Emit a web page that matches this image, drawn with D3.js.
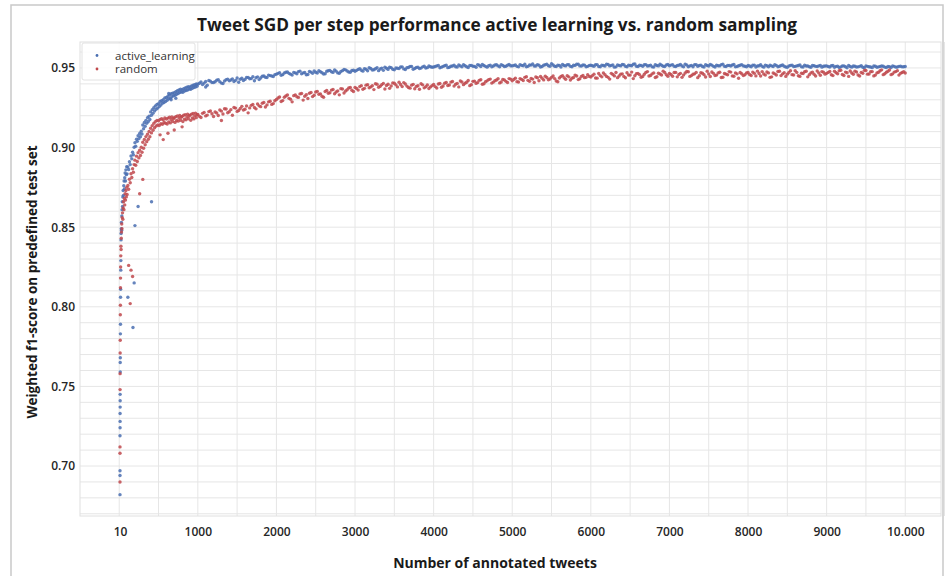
<!DOCTYPE html>
<html>
<head>
<meta charset="utf-8">
<script src="https://cdn.jsdelivr.net/npm/d3@7"></script>
<style>
  body { margin: 0; background: #fff; }
  svg text { font-family: "Open Sans", "Noto Sans", sans-serif; }
</style>
</head>
<body>
<svg id="chart" width="950" height="576"></svg>
<script>
// tick positions and labels
var xTicks = [10, 1000, 2000, 3000, 4000, 5000, 6000, 7000, 8000, 9000, 10000];
var xTickLabels = ["10", "1000", "2000", "3000", "4000", "5000", "6000", "7000", "8000", "9000", "10.000"];
var yTicks = [0.70, 0.75, 0.80, 0.85, 0.90, 0.95];
var seriesNames = ["active_learning", "random"];

// first steps: [tweets, f1]
var activeEarly = [[10,0.682],[10,0.694],[10,0.697],[10,0.719],[11,0.724],[11,0.728],[11,0.733],[12,0.737],[12,0.741],
  [12,0.745],[13,0.759],[13,0.765],[14,0.768],[15,0.783],[16,0.789],[17,0.806],[18,0.811],[20,0.823],[21,0.829],
  [23,0.842],[24,0.846],[26,0.849],[28,0.853],[30,0.848],[33,0.857],[36,0.861],[39,0.866],[42,0.863],[46,0.869],
  [50,0.873],[54,0.870],[58,0.876],[62,0.879],[66,0.874],[70,0.881],[75,0.884],[80,0.879],[85,0.886],[90,0.883],[95,0.888]];
var activeOutliers = [[175,0.787],[110,0.806],[200,0.851],[411,0.866],[240,0.863],[190,0.815],[660,0.930],[720,0.931],[630,0.934],[1100,0.938]];

var randomEarly = [[10,0.690],[10,0.708],[10,0.712],[11,0.748],[11,0.758],[12,0.771],[13,0.779],[14,0.795],[15,0.801],
  [16,0.812],[17,0.818],[18,0.825],[20,0.832],[22,0.838],[24,0.836],[26,0.843],[29,0.847],[32,0.852],[35,0.849],
  [38,0.856],[42,0.859],[46,0.855],[50,0.862],[55,0.866],[60,0.861],[65,0.868],[70,0.864],[75,0.871],[80,0.867],
  [85,0.873],[90,0.869],[95,0.875]];
var randomOutliers = [[140,0.802],[170,0.819],[150,0.823],[120,0.826],[260,0.871],[300,0.880],[560,0.905],[620,0.909],
  [700,0.911],[800,0.913],[520,0.908],[1300,0.917]];

// 100..990, every 10 tweets
var activeMid = [
  0.8835, 0.8878, 0.8862, 0.8911, 0.8893, 0.8947, 0.8929, 0.8971, 0.8955, 0.9002,
  0.9031, 0.9008, 0.9052, 0.9039, 0.9074, 0.9056, 0.9089, 0.9068, 0.9103, 0.9085,
  0.9142, 0.9118, 0.9157, 0.9134, 0.9171, 0.9152, 0.9188, 0.9163, 0.9197, 0.9176,
  0.9224, 0.9203, 0.9238, 0.9215, 0.9250, 0.9229, 0.9262, 0.9241, 0.9271, 0.9248,
  0.9276, 0.9258, 0.9289, 0.9267, 0.9295, 0.9278, 0.9301, 0.9283, 0.9312, 0.9290,
  0.9314, 0.9297, 0.9322, 0.9306, 0.9331, 0.9310, 0.9338, 0.9319, 0.9342, 0.9325,
  0.9344, 0.9328, 0.9351, 0.9335, 0.9357, 0.9340, 0.9362, 0.9346, 0.9366, 0.9349,
  0.9363, 0.9347, 0.9369, 0.9355, 0.9374, 0.9358, 0.9379, 0.9362, 0.9382, 0.9367,
  0.9381, 0.9366, 0.9387, 0.9372, 0.9391, 0.9377, 0.9395, 0.9380, 0.9399, 0.9385];
var randomMid = [
  0.8705, 0.8762, 0.8738, 0.8801, 0.8779, 0.8836, 0.8812, 0.8867, 0.8845, 0.8893,
  0.8921, 0.8889, 0.8946, 0.8912, 0.8968, 0.8935, 0.8983, 0.8950, 0.9002, 0.8971,
  0.9033, 0.8996, 0.9051, 0.9018, 0.9069, 0.9037, 0.9084, 0.9052, 0.9101, 0.9068,
  0.9121, 0.9092, 0.9138, 0.9109, 0.9152, 0.9124, 0.9163, 0.9135, 0.9171, 0.9142,
  0.9168, 0.9139, 0.9177, 0.9150, 0.9181, 0.9146, 0.9174, 0.9157, 0.9186, 0.9153,
  0.9179, 0.9148, 0.9185, 0.9161, 0.9190, 0.9155, 0.9176, 0.9193, 0.9164, 0.9182,
  0.9187, 0.9158, 0.9194, 0.9170, 0.9199, 0.9166, 0.9185, 0.9201, 0.9172, 0.9190,
  0.9196, 0.9163, 0.9203, 0.9178, 0.9207, 0.9174, 0.9192, 0.9209, 0.9181, 0.9198,
  0.9204, 0.9171, 0.9210, 0.9186, 0.9214, 0.9180, 0.9199, 0.9216, 0.9188, 0.9206];

// 1000..10000, every 40 tweets
var activeLate = [
  0.9398, 0.9412, 0.9405, 0.9391, 0.9417, 0.9409, 0.9423, 0.9414, 0.9402, 0.9426,
  0.9419, 0.9431, 0.9422, 0.9410, 0.9435, 0.9428, 0.9441, 0.9433, 0.9420, 0.9444,
  0.9437, 0.9449, 0.9440, 0.9452, 0.9446,
  0.9461, 0.9470, 0.9458, 0.9473, 0.9466, 0.9455, 0.9469, 0.9477, 0.9463, 0.9471,
  0.9459, 0.9474, 0.9481, 0.9468, 0.9476, 0.9462, 0.9479, 0.9485, 0.9472, 0.9480,
  0.9467, 0.9483, 0.9488, 0.9475, 0.9484,
  0.9479, 0.9491, 0.9486, 0.9495, 0.9482, 0.9497, 0.9489, 0.9501, 0.9493, 0.9485,
  0.9498, 0.9504, 0.9492, 0.9500, 0.9496, 0.9507, 0.9490, 0.9503, 0.9509, 0.9497,
  0.9505, 0.9499, 0.9511, 0.9502, 0.9508,
  0.9506, 0.9513, 0.9501, 0.9510, 0.9517, 0.9504, 0.9512, 0.9508, 0.9519, 0.9507,
  0.9514, 0.9503, 0.9516, 0.9510, 0.9521, 0.9509, 0.9515, 0.9505, 0.9518, 0.9512,
  0.9520, 0.9508, 0.9516, 0.9511, 0.9522,
  0.9513, 0.9519, 0.9507, 0.9516, 0.9523, 0.9510, 0.9518, 0.9512, 0.9521, 0.9506,
  0.9517, 0.9524, 0.9511, 0.9519, 0.9509, 0.9515, 0.9522, 0.9513, 0.9520, 0.9508,
  0.9516, 0.9523, 0.9512, 0.9518, 0.9510,
  0.9517, 0.9511, 0.9521, 0.9508, 0.9515, 0.9524, 0.9513, 0.9519, 0.9507, 0.9516,
  0.9522, 0.9510, 0.9518, 0.9514, 0.9525, 0.9509, 0.9516, 0.9520, 0.9512, 0.9518,
  0.9506, 0.9515, 0.9523, 0.9511, 0.9519,
  0.9514, 0.9521, 0.9509, 0.9517, 0.9512, 0.9523, 0.9508, 0.9516, 0.9520, 0.9511,
  0.9518, 0.9506, 0.9515, 0.9522, 0.9510, 0.9517, 0.9513, 0.9524, 0.9509, 0.9516,
  0.9519, 0.9507, 0.9514, 0.9521, 0.9511,
  0.9515, 0.9508, 0.9518, 0.9512, 0.9520, 0.9505, 0.9514, 0.9517, 0.9509, 0.9516,
  0.9511, 0.9519, 0.9506, 0.9513, 0.9518, 0.9510, 0.9515, 0.9507, 0.9517, 0.9512,
  0.9504, 0.9514, 0.9509, 0.9516, 0.9511,
  0.9513, 0.9506, 0.9515, 0.9510, 0.9503, 0.9512, 0.9508, 0.9516, 0.9505, 0.9511,
  0.9507, 0.9514, 0.9502, 0.9510, 0.9506, 0.9513, 0.9504, 0.9509, 0.9511, 0.9503,
  0.9508, 0.9512, 0.9505, 0.9510, 0.9507, 0.9509];
var randomLate = [
  0.9208, 0.9189, 0.9221, 0.9204, 0.9230, 0.9195, 0.9217, 0.9236, 0.9211, 0.9242,
  0.9225, 0.9203, 0.9248, 0.9233, 0.9259, 0.9241, 0.9218, 0.9265, 0.9252, 0.9274,
  0.9257, 0.9283, 0.9268, 0.9291, 0.9276,
  0.9302, 0.9318, 0.9295, 0.9324, 0.9309, 0.9287, 0.9331, 0.9315, 0.9340, 0.9322,
  0.9308, 0.9346, 0.9329, 0.9353, 0.9337, 0.9316, 0.9358, 0.9344, 0.9365, 0.9349,
  0.9331, 0.9368, 0.9355, 0.9374, 0.9360,
  0.9378, 0.9361, 0.9389, 0.9372, 0.9395, 0.9381, 0.9364, 0.9398, 0.9385, 0.9403,
  0.9390, 0.9372, 0.9406, 0.9394, 0.9410, 0.9383, 0.9399, 0.9377, 0.9392, 0.9369,
  0.9388, 0.9401, 0.9375, 0.9393, 0.9381,
  0.9396, 0.9374, 0.9402, 0.9387, 0.9409, 0.9393, 0.9415, 0.9398, 0.9381, 0.9412,
  0.9404, 0.9421, 0.9395, 0.9417, 0.9408, 0.9426, 0.9401, 0.9419, 0.9430, 0.9411,
  0.9424, 0.9406, 0.9428, 0.9416, 0.9433,
  0.9419, 0.9436, 0.9412, 0.9428, 0.9441, 0.9422, 0.9434, 0.9409, 0.9438, 0.9446,
  0.9425, 0.9440, 0.9431, 0.9449, 0.9418, 0.9437, 0.9452, 0.9429, 0.9444, 0.9435,
  0.9455, 0.9427, 0.9447, 0.9439, 0.9458,
  0.9443, 0.9461, 0.9436, 0.9452, 0.9468, 0.9447, 0.9430, 0.9459, 0.9471, 0.9449,
  0.9463, 0.9438, 0.9456, 0.9474, 0.9451, 0.9466, 0.9442, 0.9460, 0.9477, 0.9453,
  0.9469, 0.9445, 0.9462, 0.9480, 0.9457,
  0.9465, 0.9448, 0.9472, 0.9459, 0.9441, 0.9468, 0.9476, 0.9452, 0.9463, 0.9439,
  0.9470, 0.9458, 0.9479, 0.9446, 0.9466, 0.9455, 0.9473, 0.9442, 0.9461, 0.9477,
  0.9450, 0.9469, 0.9435, 0.9464, 0.9457,
  0.9471, 0.9453, 0.9466, 0.9480, 0.9449, 0.9462, 0.9475, 0.9441, 0.9468, 0.9456,
  0.9479, 0.9463, 0.9447, 0.9472, 0.9458, 0.9482, 0.9451, 0.9467, 0.9476, 0.9444,
  0.9469, 0.9460, 0.9481, 0.9454, 0.9473,
  0.9466, 0.9478, 0.9452, 0.9470, 0.9483, 0.9459, 0.9474, 0.9447, 0.9468, 0.9480,
  0.9456, 0.9472, 0.9485, 0.9461, 0.9476, 0.9450, 0.9469, 0.9482, 0.9458, 0.9473,
  0.9487, 0.9463, 0.9477, 0.9455, 0.9471, 0.9468];

// in-between steps 1020..9980, every 40 tweets
var activeLate2 = [
  0.9404, 0.9396, 0.9415, 0.9421, 0.9408, 0.9413, 0.9427, 0.9405, 0.9418, 0.9430,
  0.9424, 0.9415, 0.9437, 0.9429, 0.9421, 0.9440, 0.9432, 0.9445, 0.9438, 0.9427,
  0.9448, 0.9442, 0.9455, 0.9449, 0.9458,
  0.9466, 0.9454, 0.9468, 0.9475, 0.9461, 0.9472, 0.9464, 0.9480, 0.9469, 0.9457,
  0.9478, 0.9466, 0.9473, 0.9483, 0.9470, 0.9464, 0.9482, 0.9476, 0.9487, 0.9469,
  0.9478, 0.9490, 0.9481, 0.9473, 0.9486,
  0.9485, 0.9496, 0.9480, 0.9492, 0.9501, 0.9487, 0.9495, 0.9483, 0.9499, 0.9505,
  0.9491, 0.9502, 0.9488, 0.9498, 0.9506, 0.9494, 0.9501, 0.9510, 0.9492, 0.9503,
  0.9497, 0.9507, 0.9500, 0.9512, 0.9504,
  0.9509, 0.9516, 0.9505, 0.9514, 0.9502, 0.9511, 0.9518, 0.9506, 0.9513, 0.9520,
  0.9508, 0.9515, 0.9511, 0.9504, 0.9517, 0.9522, 0.9510, 0.9514, 0.9507, 0.9519,
  0.9513, 0.9521, 0.9509, 0.9517, 0.9514,
  0.9516, 0.9510, 0.9521, 0.9514, 0.9508, 0.9519, 0.9525, 0.9512, 0.9517, 0.9509,
  0.9520, 0.9514, 0.9526, 0.9511, 0.9518, 0.9506, 0.9515, 0.9521, 0.9510, 0.9517,
  0.9524, 0.9513, 0.9519, 0.9508, 0.9516,
  0.9514, 0.9520, 0.9509, 0.9518, 0.9512, 0.9522, 0.9516, 0.9505, 0.9519, 0.9513,
  0.9521, 0.9508, 0.9515, 0.9523, 0.9511, 0.9517, 0.9510, 0.9521, 0.9514, 0.9507,
  0.9520, 0.9513, 0.9517, 0.9509, 0.9522,
  0.9518, 0.9510, 0.9515, 0.9522, 0.9507, 0.9519, 0.9513, 0.9508, 0.9521, 0.9515,
  0.9509, 0.9520, 0.9512, 0.9518, 0.9506, 0.9514, 0.9521, 0.9510, 0.9516, 0.9512,
  0.9522, 0.9509, 0.9517, 0.9513, 0.9508,
  0.9512, 0.9517, 0.9506, 0.9514, 0.9510, 0.9518, 0.9508, 0.9513, 0.9520, 0.9507,
  0.9515, 0.9511, 0.9504, 0.9516, 0.9509, 0.9513, 0.9519, 0.9506, 0.9512, 0.9508,
  0.9515, 0.9510, 0.9513, 0.9505, 0.9512,
  0.9509, 0.9514, 0.9504, 0.9511, 0.9507, 0.9513, 0.9501, 0.9509, 0.9512, 0.9506,
  0.9510, 0.9504, 0.9513, 0.9508, 0.9502, 0.9511, 0.9507, 0.9512, 0.9505, 0.9509,
  0.9503, 0.9510, 0.9506, 0.9511, 0.9508];
var randomLate2 = [
  0.9196, 0.9215, 0.9199, 0.9226, 0.9212, 0.9223, 0.9201, 0.9229, 0.9244, 0.9219,
  0.9238, 0.9252, 0.9227, 0.9245, 0.9236, 0.9261, 0.9249, 0.9270, 0.9243, 0.9262,
  0.9278, 0.9255, 0.9287, 0.9271, 0.9294,
  0.9311, 0.9289, 0.9316, 0.9330, 0.9303, 0.9326, 0.9319, 0.9337, 0.9298, 0.9332,
  0.9341, 0.9320, 0.9349, 0.9335, 0.9322, 0.9352, 0.9341, 0.9361, 0.9338, 0.9356,
  0.9370, 0.9343, 0.9363, 0.9377, 0.9352,
  0.9371, 0.9383, 0.9366, 0.9392, 0.9376, 0.9388, 0.9401, 0.9379, 0.9395, 0.9368,
  0.9398, 0.9387, 0.9404, 0.9381, 0.9396, 0.9408, 0.9386, 0.9373, 0.9397, 0.9384,
  0.9366, 0.9394, 0.9382, 0.9371, 0.9389,
  0.9383, 0.9399, 0.9379, 0.9404, 0.9390, 0.9411, 0.9386, 0.9403, 0.9418, 0.9395,
  0.9410, 0.9389, 0.9416, 0.9403, 0.9422, 0.9398, 0.9413, 0.9427, 0.9405, 0.9420,
  0.9432, 0.9412, 0.9425, 0.9409, 0.9430,
  0.9428, 0.9414, 0.9433, 0.9421, 0.9445, 0.9416, 0.9430, 0.9443, 0.9420, 0.9435,
  0.9448, 0.9426, 0.9441, 0.9433, 0.9413, 0.9446, 0.9438, 0.9451, 0.9424, 0.9440,
  0.9449, 0.9432, 0.9453, 0.9441, 0.9447,
  0.9452, 0.9437, 0.9465, 0.9444, 0.9458, 0.9441, 0.9466, 0.9450, 0.9439, 0.9461,
  0.9447, 0.9470, 0.9455, 0.9433, 0.9464, 0.9458, 0.9446, 0.9472, 0.9449, 0.9463,
  0.9440, 0.9467, 0.9456, 0.9471, 0.9448,
  0.9459, 0.9471, 0.9444, 0.9466, 0.9455, 0.9478, 0.9447, 0.9460, 0.9472, 0.9451,
  0.9467, 0.9443, 0.9462, 0.9475, 0.9453, 0.9469, 0.9440, 0.9465, 0.9457, 0.9474,
  0.9448, 0.9463, 0.9471, 0.9452, 0.9468,
  0.9459, 0.9474, 0.9450, 0.9465, 0.9477, 0.9455, 0.9469, 0.9444, 0.9463, 0.9478,
  0.9452, 0.9470, 0.9461, 0.9483, 0.9456, 0.9472, 0.9447, 0.9465, 0.9479, 0.9458,
  0.9474, 0.9449, 0.9468, 0.9477, 0.9461,
  0.9472, 0.9457, 0.9479, 0.9464, 0.9486, 0.9453, 0.9470, 0.9481, 0.9460, 0.9475,
  0.9449, 0.9467, 0.9484, 0.9462, 0.9477, 0.9455, 0.9473, 0.9488, 0.9464, 0.9479,
  0.9458, 0.9474, 0.9483, 0.9466, 0.9476];

var midSteps = d3.range(100, 1000, 10);
var lateSteps = d3.range(1000, 10001, 40);
var lateSteps2 = d3.range(1020, 10000, 40);

function buildSeries(early, mid, late, late2, outliers) {
  var pts = early.map(function(d) { return {x: d[0], y: d[1]}; });
  mid.forEach(function(v, i) { pts.push({x: midSteps[i], y: v}); });
  late.forEach(function(v, i) { pts.push({x: lateSteps[i], y: v}); });
  late2.forEach(function(v, i) { pts.push({x: lateSteps2[i], y: v}); });
  outliers.forEach(function(d) { pts.push({x: d[0], y: d[1]}); });
  return pts;
}

var series = [
  {name: seriesNames[0], color: "#4a6fb2", points: buildSeries(activeEarly, activeMid, activeLate, activeLate2, activeOutliers)},
  {name: seriesNames[1], color: "#c0484c", points: buildSeries(randomEarly, randomMid, randomLate, randomLate2, randomOutliers)}
];

var svg = d3.select("#chart"),
    margin = {top: 42, right: 9, bottom: 60, left: 80},
    width = +svg.attr("width") - margin.left - margin.right,
    height = +svg.attr("height") - margin.top - margin.bottom;

// outer frame
svg.append("rect")
    .attr("x", 11).attr("y", 5)
    .attr("width", 932).attr("height", 620)
    .attr("fill", "none")
    .attr("stroke", "#c9c9c9")
    .attr("stroke-width", 1.5);

var x = d3.scaleLinear().domain([-499, 10455]).range([0, width]),
    y = d3.scaleLinear().domain([0.6686, 0.9663]).range([height, 0]);

var g = svg.append("g")
    .attr("transform", "translate(" + margin.left + "," + margin.top + ")");

// grid
g.append("g").selectAll("line")
    .data(d3.range(0, 10501, 500))
  .enter().append("line")
    .attr("x1", function(d) { return x(d); }).attr("x2", function(d) { return x(d); })
    .attr("y1", 0).attr("y2", height)
    .attr("stroke", "#e6e6e6").attr("stroke-width", 1);

g.append("g").selectAll("line")
    .data(d3.range(67, 97, 1).map(function(d) { return d / 100; }))
  .enter().append("line")
    .attr("x1", 0).attr("x2", width)
    .attr("y1", function(d) { return y(d); }).attr("y2", function(d) { return y(d); })
    .attr("stroke", "#e6e6e6").attr("stroke-width", 1);

g.append("rect")
    .attr("width", width).attr("height", height)
    .attr("fill", "none").attr("stroke", "#e0e0e0");

// axes
var xAxis = d3.axisBottom(x)
    .tickValues(xTicks)
    .tickSize(0)
    .tickPadding(11)
    .tickFormat(function(d, i) { return xTickLabels[i]; });

var yAxis = d3.axisLeft(y)
    .tickValues(yTicks)
    .tickSize(0)
    .tickPadding(5)
    .tickFormat(d3.format(".2f"));

g.append("g")
    .attr("class", "axis axis--x")
    .attr("transform", "translate(0," + height + ")")
    .call(xAxis)
    .call(function(a) { a.select(".domain").remove(); });

g.append("g")
    .attr("class", "axis axis--y")
    .call(yAxis)
    .call(function(a) { a.select(".domain").remove(); });

g.selectAll(".axis text")
    .attr("fill", "#262626")
    .style("font-size", "12px")
    .style("font-weight", "600");

// points
series.forEach(function(s) {
  g.append("g").selectAll("circle")
      .data(s.points)
    .enter().append("circle")
      .attr("cx", function(d) { return x(d.x); })
      .attr("cy", function(d) { return y(d.y); })
      .attr("r", 1.7)
      .attr("fill", s.color)
      .attr("fill-opacity", 0.85);
});

// legend
var legend = svg.append("g").attr("transform", "translate(82,43)");
legend.append("rect")
    .attr("width", 113).attr("height", 37)
    .attr("fill", "#fff").attr("fill-opacity", 0.85)
    .attr("stroke", "#e2e2e2").attr("rx", 2);
series.forEach(function(s, i) {
  legend.append("circle")
      .attr("cx", 15).attr("cy", 12.5 + i * 13.5)
      .attr("r", 1.4).attr("fill", s.color);
  legend.append("text")
      .attr("x", 33).attr("y", 12.5 + i * 13.5)
      .attr("dy", "0.35em")
      .attr("fill", "#333")
      .style("font-size", "11.5px")
      .text(s.name);
});

// title and axis labels
svg.append("text")
    .attr("x", 497).attr("y", 31)
    .attr("text-anchor", "middle")
    .attr("fill", "#1a1a1a")
    .style("font-size", "17.3px")
    .style("font-weight", "700")
    .text("Tweet SGD per step performance active learning vs. random sampling");

svg.append("text")
    .attr("x", 495).attr("y", 568)
    .attr("text-anchor", "middle")
    .attr("fill", "#1a1a1a")
    .style("font-size", "14px")
    .style("font-weight", "700")
    .text("Number of annotated tweets");

svg.append("text")
    .attr("transform", "translate(37,282) rotate(-90)")
    .attr("text-anchor", "middle")
    .attr("fill", "#1a1a1a")
    .style("font-size", "13.5px")
    .style("font-weight", "700")
    .text("Weighted f1-score on predefined test set");
</script>
</body>
</html>
